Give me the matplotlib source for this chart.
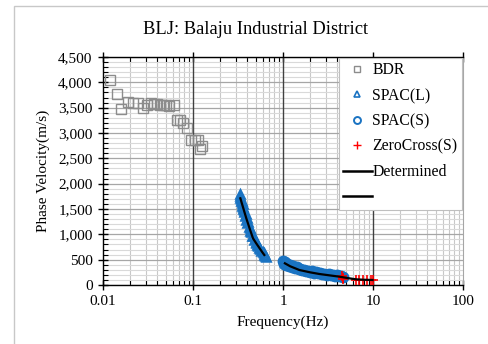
import matplotlib
matplotlib.use("Agg")
import matplotlib.pyplot as plt
import matplotlib.ticker as mticker
from matplotlib.lines import Line2D
from matplotlib.patches import Rectangle

plt.rcParams["font.family"] = ["Liberation Serif", "DejaVu Serif"]

# ─── Data ──────────────────────────────────────────────────────────────────────

bdr_f = [0.012, 0.0142, 0.0159, 0.019, 0.0215, 0.0245, 0.028, 0.031, 0.034,
         0.037, 0.040, 0.043, 0.046, 0.050, 0.054, 0.062, 0.066, 0.072, 0.078,
         0.085, 0.095, 0.105, 0.115, 0.120, 0.125]
bdr_v = [4050, 3770, 3480, 3620, 3600, 3600, 3500, 3560, 3590,
         3580, 3570, 3560, 3560, 3550, 3540, 3560, 3250, 3260, 3190,
         3090, 2870, 2860, 2860, 2680, 2750]

spac_l_f = [0.330, 0.333, 0.336, 0.339, 0.342, 0.346, 0.349, 0.352, 0.356,
            0.360, 0.364, 0.368, 0.373, 0.378, 0.384, 0.390, 0.396, 0.403,
            0.410, 0.418, 0.426, 0.435, 0.444, 0.453, 0.462, 0.472, 0.483,
            0.495, 0.507, 0.520, 0.533, 0.547, 0.561, 0.576, 0.592, 0.608,
            0.622, 0.636, 0.650]
spac_l_v = [1800, 1760, 1720, 1660, 1690, 1610, 1650, 1560, 1600,
            1500, 1540, 1440, 1480, 1370, 1410, 1290, 1330, 1220,
            1240, 1150, 1130, 1060, 1050, 970, 960, 880, 900,
            840, 830, 780, 770, 730, 720, 680, 660, 630,
            600, 570, 545]

spac_s_f = [1.00, 1.02, 1.05, 1.08, 1.12, 1.16, 1.20, 1.25, 1.30, 1.36, 1.42,
            1.49, 1.56, 1.64, 1.72, 1.81, 1.90, 2.00, 2.11, 2.22, 2.34, 2.47,
            2.60, 2.74, 2.89, 3.05, 3.22, 3.40, 3.58, 3.78, 3.99, 4.21, 4.44,
            4.70]
spac_s_v = [470, 420, 450, 400, 420, 380, 400, 355, 375, 335, 350,
            310, 320, 290, 300, 270, 285, 255, 270, 245, 250, 230,
            240, 215, 225, 205, 215, 195, 205, 185, 190, 170, 175,
            150]

zc_f = [4.5, 4.6, 4.7, 6.4, 7.0, 7.8, 8.6, 9.5, 10.0]
zc_v = [175, 140, 120, 105, 100, 98, 100, 95, 98]

det1_f = [0.336, 0.36, 0.391, 0.425, 0.464, 0.505, 0.55, 0.59, 0.62]
det1_v = [1711, 1531, 1316, 1120, 921, 820, 724, 645, 592]
det2_f = [1.05, 1.2, 1.52, 2.0, 2.54, 3.3, 4.25, 5.3, 6.5, 8.0, 9.9]
det2_v = [428, 370, 296, 250, 217, 190, 164, 135, 112, 103, 99]

decades = [0.1, 1, 10]

BLUE = "#1a73c2"
GRAY = "#8c8c8c"
RED = "#ff0000"

# ─── Figure ────────────────────────────────────────────────────────────────────

fig = plt.figure(figsize=(4.89, 3.44), dpi=100)
ax = fig.add_axes([103 / 489, 1 - 285 / 344, 360 / 489, 228 / 344])

# chart-area border
fig.patches.append(Rectangle((14 / 489, -0.1), 1.2, 1 - 6 / 344 + 0.1,
                             transform=fig.transFigure, fill=False,
                             edgecolor="#c8c8c8", linewidth=1.0))

ax.plot(bdr_f, bdr_v, ls="none", marker="s", ms=7, mfc="none",
        mec=GRAY, mew=1.0, zorder=3)
ax.plot(spac_l_f, spac_l_v, ls="none", marker="^", ms=5.5, mfc="none",
        mec=BLUE, mew=1.8, zorder=3)
ax.plot(spac_s_f, spac_s_v, ls="none", marker="o", ms=6.5, mfc="none",
        mec=BLUE, mew=2.0, zorder=3)
ax.plot(zc_f, zc_v, ls="none", marker="+", ms=7, mec=RED, mew=1.2, zorder=4)
ax.plot(det1_f, det1_v, color="black", lw=1.6, zorder=5)
ax.plot(det2_f, det2_v, color="black", lw=1.6, zorder=5)

# darker decade lines
for d in decades:
    ax.axvline(d, color="#404040", lw=1.0, zorder=1)

ax.set_xscale("log")
ax.set_xlim(0.01, 100)
ax.set_ylim(0, 4500)

ax.yaxis.set_major_locator(mticker.MultipleLocator(500))
ax.yaxis.set_minor_locator(mticker.MultipleLocator(100))
ax.yaxis.set_major_formatter(mticker.FuncFormatter(lambda v, p: f"{v:,.0f}"))
ax.xaxis.set_major_locator(mticker.LogLocator(base=10, numticks=10))
ax.xaxis.set_minor_locator(mticker.LogLocator(base=10, subs=range(2, 10),
                                              numticks=20))
ax.xaxis.set_minor_formatter(mticker.NullFormatter())
ax.xaxis.set_major_formatter(mticker.FuncFormatter(lambda v, p: f"{v:g}"))

ax.grid(which="major", axis="y", color="#a6a6a6", lw=0.9)
ax.grid(which="minor", axis="y", color="#d9d9d9", lw=0.8)
ax.grid(which="minor", axis="x", color="#c8c8c8", lw=0.8)
ax.set_axisbelow(True)

ax.tick_params(which="major", direction="inout", length=7, width=1.0,
               labelsize=11, top=True, pad=4)
ax.tick_params(which="minor", direction="in", length=3.5, width=0.8,
               top=True)
ax.tick_params(axis="y", which="minor", left=True)
for side in ("left", "bottom", "top"):
    ax.spines[side].set_color("black")
    ax.spines[side].set_linewidth(1.0)
ax.spines["right"].set_color("#a6a6a6")

ax.set_xlabel("Frequency(Hz)", fontsize=11, labelpad=5)
ax.set_ylabel("Phase Velocity(m/s)", fontsize=11, labelpad=6)
fig.text(256 / 489, 1 - 30 / 344, "BLJ: Balaju Industrial District",
         fontsize=13.3, ha="center", va="center")

handles = [
    Line2D([], [], ls="none", marker="s", ms=5, mfc="none", mec=GRAY, mew=1.0),
    Line2D([], [], ls="none", marker="^", ms=5, mfc="none", mec=BLUE, mew=1.2),
    Line2D([], [], ls="none", marker="o", ms=5, mfc="none", mec=BLUE, mew=1.4),
    Line2D([], [], ls="none", marker="+", ms=6, mec=RED, mew=1.0),
    Line2D([], [], color="black", lw=1.8),
    Line2D([], [], color="black", lw=1.8),
]
labels = ["BDR", "SPAC(L)", "SPAC(S)", "ZeroCross(S)", "Determined", " "]
leg = ax.legend(handles, labels, loc="upper right", bbox_to_anchor=(1.0, 1.0),
                borderaxespad=0.05, fontsize=11.3, labelspacing=0.6,
                handlelength=1.8, handletextpad=0.05, borderpad=0.3,
                fancybox=False, framealpha=1.0, edgecolor="#bfbfbf")
leg.get_frame().set_linewidth(0.8)

fig.savefig("out.png", dpi=100)
